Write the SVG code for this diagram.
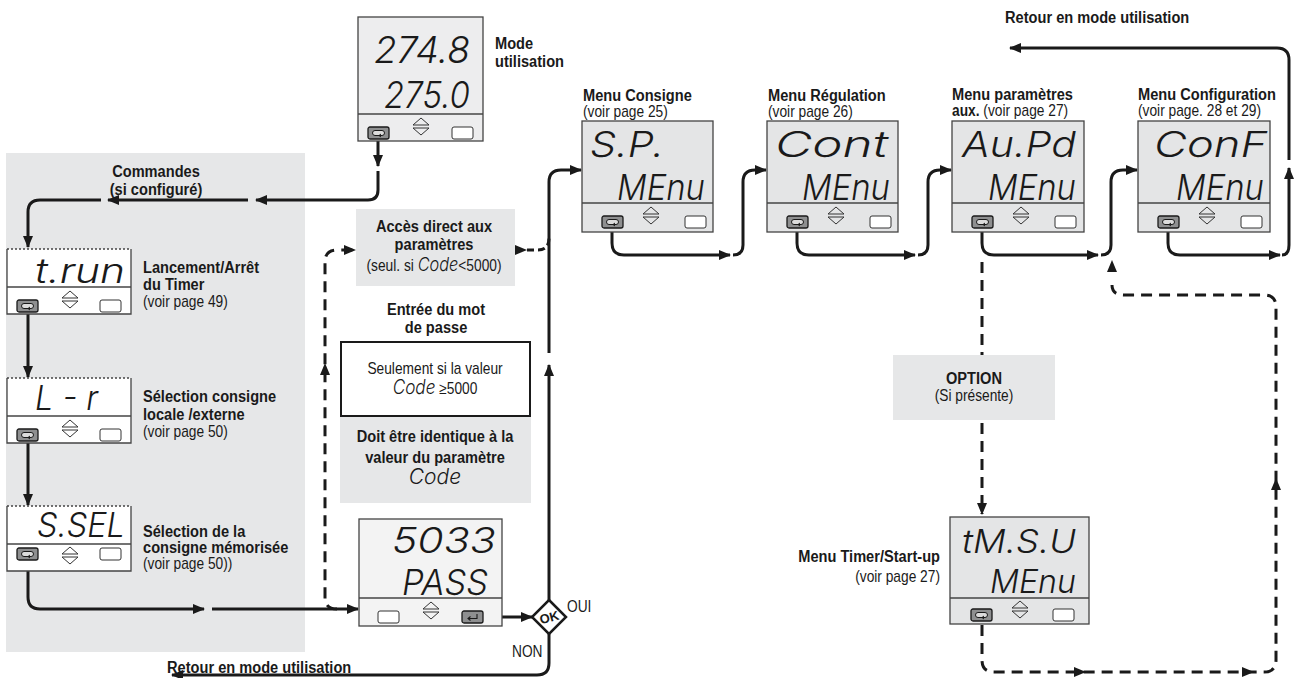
<svg xmlns="http://www.w3.org/2000/svg" width="1295" height="678" viewBox="0 0 1295 678">
<style>
.lb{font-family:"Liberation Sans",Arial,sans-serif;font-weight:bold;font-size:17px;fill:#1a1a1a}
.lr{font-family:"Liberation Sans",Arial,sans-serif;font-weight:normal;font-size:16px;fill:#1a1a1a}
.seg{font-family:Inter,"DejaVu Sans",sans-serif;font-weight:300;font-style:oblique;fill:#1a1a1a}
.panel{fill:#e6e7e8}
.disp{stroke:#444;stroke-width:1.3}
.div{stroke:#444;stroke-width:1.3}
.c{fill:none;stroke:#1a1a1a;stroke-width:3;stroke-linejoin:round}
.d{fill:none;stroke:#1a1a1a;stroke-width:3;stroke-dasharray:11 7}
.tri{fill:#1a1a1a}
</style>
<defs>
<marker id="ah" markerWidth="13" markerHeight="10" refX="11" refY="5" orient="auto" markerUnits="userSpaceOnUse"><path d="M0 0 L12 5 L0 10 z" fill="#1a1a1a"/></marker>
<g id="bLoop"><rect x="0" y="0" width="21" height="12" rx="2" fill="#8e8f90" stroke="#1a1a1a" stroke-width="1.3"/><path d="M7 3.5 H14 A2.5 2.5 0 0 1 14 8.5 H7 A2.5 2.5 0 0 1 7 3.5 Z" fill="#dcdcdc" stroke="#1a1a1a" stroke-width="1"/><path d="M13 7 L11 8.5 L13 10" fill="none" stroke="#1a1a1a" stroke-width="1"/></g>
<g id="bBlank"><rect x="0" y="0" width="21" height="12" rx="2" fill="#fff" stroke="#333" stroke-width="1"/></g>
<g id="bArr"><path d="M-8 8 L0 1 L8 8 Z M-8 11 L0 18 L8 11 Z" fill="none" stroke="#333" stroke-width="1"/></g>
<g id="bEnter"><rect x="0" y="0" width="21" height="12" rx="2" fill="#8e8f90" stroke="#1a1a1a" stroke-width="1.3"/><path d="M15 3 V7.5 H6 M8.5 5.5 L6 7.5 L8.5 9.5" fill="none" stroke="#1a1a1a" stroke-width="1.1"/></g>
<path id="triR" d="M-12 -5 L0 0 L-12 5 Z"/>
</defs>

<!-- background panels -->
<rect class="panel" x="6" y="153" width="299" height="499"/>
<rect class="panel" x="356" y="209" width="159" height="77"/>
<rect class="panel" x="340" y="416" width="191" height="87"/>
<rect class="panel" x="893" y="355" width="162" height="65"/>

<!-- connectors -->
<g id="connectors">
<path class="c" d="M378 139 V166" marker-end="url(#ah)"/>
<path class="c" d="M378 171 V190 Q378 200 368 200 H256" marker-end="url(#ah)"/>
<path class="c" d="M248 200 H108" marker-end="url(#ah)"/>
<path class="c" d="M101 200 H40 Q28 200 28 212 V247" marker-end="url(#ah)"/>
<path class="c" d="M28 313 V377" marker-end="url(#ah)"/>
<path class="c" d="M28 441 V505" marker-end="url(#ah)"/>
<path class="c" d="M28 561 V597 Q28 609 40 609 H204" marker-end="url(#ah)"/>
<path class="c" d="M212 609 H358" marker-end="url(#ah)"/>
<path class="d" d="M337 609 Q325 609 325 597 V262 Q325 250 337 250 H355" marker-end="url(#ah)"/>
<use href="#triR" class="tri" transform="translate(325 363) rotate(-90)"/>
<polygon class="tri" points="515,245 527,250 515,255"/>
<path class="d" style="stroke-dasharray:7 4" d="M527 250 H538 Q549 250 549 238"/>
<path class="c" d="M549 601 V365" marker-end="url(#ah)"/>
<path class="c" d="M549 353 V182 Q549 170 561 170 H581" marker-end="url(#ah)"/>
<path class="c" d="M484 617 H532" marker-end="url(#ah)"/>
<path class="c" d="M549 634 V663 Q549 675 537 675 H172" marker-end="url(#ah)"/>
<path class="c" d="M612 228 V243 Q612 255 624 255 H730" marker-end="url(#ah)"/>
<path class="c" d="M733 255 Q743 255 743 245 V182 Q743 170 755 170 H766" marker-end="url(#ah)"/>
<path class="c" d="M797 228 V243 Q797 255 809 255 H915" marker-end="url(#ah)"/>
<path class="c" d="M918 255 Q928 255 928 245 V182 Q928 170 940 170 H951" marker-end="url(#ah)"/>
<path class="c" d="M982 228 V243 Q982 255 994 255 H1098" marker-end="url(#ah)"/>
<path class="c" d="M1101 255 Q1111 255 1111 245 V182 Q1111 170 1123 170 H1137" marker-end="url(#ah)"/>
<path class="c" d="M1168 228 V243 Q1168 255 1180 255 H1280" marker-end="url(#ah)"/>
<path class="c" d="M1282 255 Q1289 255 1289 245 V168" marker-end="url(#ah)"/>
<path class="c" d="M1289 160 V60 Q1289 48 1277 48 H1010" marker-end="url(#ah)"/>
<path class="d" d="M982 262 V355"/>
<path class="d" d="M982 423 V514" marker-end="url(#ah)"/>
<path class="d" d="M982 625 V660 Q982 672 994 672 H1264 Q1276 672 1276 660 V307 Q1276 295 1264 295 H1124 Q1112 295 1112 285"/>
<use href="#triR" class="tri" transform="translate(1086 672)"/>
<use href="#triR" class="tri" transform="translate(1254 672)"/>
<use href="#triR" class="tri" transform="translate(1276 478) rotate(-90)"/>
<use href="#triR" class="tri" transform="translate(1112 260) rotate(-90)"/>
<polygon points="549,600 566,617 549,634 532,617" fill="#fff" stroke="#1a1a1a" stroke-width="2.5"/>
</g>

<!-- Mode utilisation -->
<g id="mode">
<rect class="disp" x="358" y="17" width="125" height="124" fill="#ededee"/>
<line class="div" x1="358" y1="114" x2="483" y2="114"/>
<use href="#bLoop" x="368" y="127"/>
<use href="#bArr" x="421" y="117"/>
<use href="#bBlank" x="452" y="127"/>
<text class="seg" x="374" y="63" font-size="37" textLength="96" lengthAdjust="spacingAndGlyphs">274.8</text>
<text class="seg" x="384" y="108" font-size="37" textLength="86" lengthAdjust="spacingAndGlyphs">275.0</text>
<text class="lb" transform="translate(495 49) scale(0.86 1)">Mode</text>
<text class="lb" transform="translate(495 67) scale(0.86 1)">utilisation</text>
</g>

<g id="commandes">
<text class="lb" text-anchor="middle" transform="translate(156 177) scale(0.86 1)">Commandes</text>
<text class="lb" text-anchor="middle" transform="translate(156 195) scale(0.86 1)">(si configuré)</text>
</g>

<!-- t.run -->
<g id="trun">
<rect x="7" y="249" width="124" height="65" fill="#fff"/>
<path d="M7 249 V314 H131 V249" fill="none" stroke="#444" stroke-width="1.3"/>
<line x1="7" y1="249" x2="131" y2="249" stroke="#444" stroke-width="1.3" stroke-dasharray="2 2"/>
<line class="div" x1="7" y1="287" x2="131" y2="287"/>
<use href="#bLoop" x="17" y="300"/>
<use href="#bArr" x="70" y="290"/>
<use href="#bBlank" x="100" y="300"/>
<text class="seg" x="35" y="283" font-size="34" textLength="90" lengthAdjust="spacingAndGlyphs">t.run</text>
<text class="lb" transform="translate(143 273) scale(0.86 1)">Lancement/Arrêt</text>
<text class="lb" transform="translate(143 290) scale(0.86 1)">du Timer</text>
<text class="lr" transform="translate(143 307) scale(0.86 1)">(voir page 49)</text>
</g>

<!-- L-r -->
<g id="lr">
<rect x="7" y="378" width="124" height="65" fill="#fff"/>
<path d="M7 378 V443 H131 V378" fill="none" stroke="#444" stroke-width="1.3"/>
<line x1="7" y1="378" x2="131" y2="378" stroke="#444" stroke-width="1.3" stroke-dasharray="2 2"/>
<line class="div" x1="7" y1="416" x2="131" y2="416"/>
<use href="#bLoop" x="17" y="429"/>
<use href="#bArr" x="70" y="419"/>
<use href="#bBlank" x="100" y="429"/>
<text class="seg" x="35" y="410" font-size="34" textLength="63" lengthAdjust="spacingAndGlyphs">L - r</text>
<text class="lb" transform="translate(143 402) scale(0.86 1)">Sélection consigne</text>
<text class="lb" transform="translate(143 420) scale(0.86 1)">locale /externe</text>
<text class="lr" transform="translate(143 437) scale(0.86 1)">(voir page 50)</text>
</g>

<!-- S.SEL -->
<g id="ssel">
<rect x="7" y="506" width="124" height="65" fill="#fff"/>
<path d="M7 506 V571 H131 V506" fill="none" stroke="#444" stroke-width="1.3"/>
<line x1="7" y1="506" x2="131" y2="506" stroke="#444" stroke-width="1.3" stroke-dasharray="2 2"/>
<line class="div" x1="7" y1="544" x2="131" y2="544"/>
<use href="#bLoop" x="17" y="548"/>
<use href="#bArr" x="70" y="546"/>
<use href="#bBlank" x="100" y="548"/>
<text class="seg" x="37" y="537" font-size="34" textLength="88" lengthAdjust="spacingAndGlyphs">S.SEL</text>
<text class="lb" transform="translate(143 537) scale(0.86 1)">Sélection de la</text>
<text class="lb" transform="translate(143 553) scale(0.86 1)">consigne mémorisée</text>
<text class="lr" transform="translate(143 569) scale(0.86 1)">(voir page 50))</text>
</g>

<text class="lb" transform="translate(167 673) scale(0.86 1)">Retour en mode utilisation</text>

<!-- Accès direct -->
<g id="acces">
<text class="lb" text-anchor="middle" transform="translate(434 232) scale(0.86 1)">Accès direct aux</text>
<text class="lb" text-anchor="middle" transform="translate(434 250) scale(0.86 1)">paramètres</text>
<text class="lr" text-anchor="middle" transform="translate(434 271) scale(0.86 1)">(seul. si <tspan class="seg" font-size="19">Code</tspan>&lt;5000)</text>
</g>

<g id="motdepasse">
<text class="lb" text-anchor="middle" transform="translate(436 315) scale(0.86 1)">Entrée du mot</text>
<text class="lb" text-anchor="middle" transform="translate(436 333) scale(0.86 1)">de passe</text>
<rect x="341" y="342" width="189" height="74" fill="#fff" stroke="#1a1a1a" stroke-width="2"/>
<text class="lr" text-anchor="middle" transform="translate(435 374) scale(0.86 1)">Seulement si la valeur</text>
<text class="lr" text-anchor="middle" transform="translate(435 394) scale(0.86 1)"><tspan class="seg" font-size="20">Code</tspan>  ≥5000</text>
</g>

<g id="identique">
<text class="lb" text-anchor="middle" transform="translate(435 442) scale(0.86 1)">Doit être identique à la</text>
<text class="lb" text-anchor="middle" transform="translate(435 463) scale(0.86 1)">valeur du paramètre</text>
<text class="seg" x="435" y="484" font-size="21" text-anchor="middle">Code</text>
</g>

<!-- PASS -->
<g id="pass">
<rect class="disp" x="359" y="519" width="143" height="107" fill="#f3f3f3"/>
<line class="div" x1="359" y1="598" x2="502" y2="598"/>
<use href="#bBlank" x="378" y="611"/>
<use href="#bArr" x="431" y="601"/>
<use href="#bEnter" x="462" y="611"/>
<text class="seg" x="392" y="553" font-size="35" textLength="104" lengthAdjust="spacingAndGlyphs">5033</text>
<text class="seg" x="402" y="595" font-size="35" textLength="86" lengthAdjust="spacingAndGlyphs">PASS</text>
</g>

<g id="ok">
<text x="549" y="622" font-family="Liberation Sans, Arial, sans-serif" font-weight="bold" font-size="13" text-anchor="middle" fill="#1a1a1a" transform="rotate(-15 549 617)">OK</text>
<text class="lr" transform="translate(567 612) scale(0.86 1)">OUI</text>
<text class="lr" transform="translate(512 657) scale(0.86 1)">NON</text>
</g>

<!-- Menu Consigne -->
<g id="sp">
<text class="lb" transform="translate(583 101) scale(0.86 1)">Menu Consigne</text>
<text class="lr" transform="translate(583 117) scale(0.86 1)">(voir page 25)</text>
<rect class="disp" x="582" y="121" width="131" height="111" fill="#e4e5e6"/>
<line class="div" x1="582" y1="203" x2="713" y2="203"/>
<use href="#bLoop" x="602" y="216"/>
<use href="#bArr" x="651" y="206"/>
<use href="#bBlank" x="685" y="216"/>
<text class="seg" x="590" y="157" font-size="36" textLength="74" lengthAdjust="spacingAndGlyphs">S.P.</text>
<text class="seg" x="617" y="200" font-size="36" textLength="88" lengthAdjust="spacingAndGlyphs">MEnu</text>
</g>

<g id="cont">
<text class="lb" transform="translate(768 101) scale(0.86 1)">Menu Régulation</text>
<text class="lr" transform="translate(768 117) scale(0.86 1)">(voir page 26)</text>
<rect class="disp" x="767" y="121" width="131" height="111" fill="#e4e5e6"/>
<line class="div" x1="767" y1="203" x2="898" y2="203"/>
<use href="#bLoop" x="787" y="216"/>
<use href="#bArr" x="836" y="206"/>
<use href="#bBlank" x="870" y="216"/>
<text class="seg" x="775" y="157" font-size="36" textLength="113" lengthAdjust="spacingAndGlyphs">Cont</text>
<text class="seg" x="802" y="200" font-size="36" textLength="88" lengthAdjust="spacingAndGlyphs">MEnu</text>
</g>

<g id="aupd">
<text class="lb" transform="translate(952 100) scale(0.86 1)">Menu paramètres</text>
<text class="lr" transform="translate(952 116) scale(0.86 1)"><tspan font-weight="bold">aux.</tspan> (voir page 27)</text>
<rect class="disp" x="952" y="121" width="132" height="111" fill="#e4e5e6"/>
<line class="div" x1="952" y1="203" x2="1084" y2="203"/>
<use href="#bLoop" x="972" y="216"/>
<use href="#bArr" x="1021" y="206"/>
<use href="#bBlank" x="1055" y="216"/>
<text class="seg" x="962" y="157" font-size="36" textLength="114" lengthAdjust="spacingAndGlyphs">Au.Pd</text>
<text class="seg" x="988" y="200" font-size="36" textLength="88" lengthAdjust="spacingAndGlyphs">MEnu</text>
</g>

<g id="conf">
<text class="lb" transform="translate(1138 100) scale(0.86 1)">Menu Configuration</text>
<text class="lr" transform="translate(1138 116) scale(0.86 1)">(voir page. 28 et 29)</text>
<rect class="disp" x="1138" y="121" width="132" height="111" fill="#e4e5e6"/>
<line class="div" x1="1138" y1="203" x2="1270" y2="203"/>
<use href="#bLoop" x="1158" y="216"/>
<use href="#bArr" x="1207" y="206"/>
<use href="#bBlank" x="1241" y="216"/>
<text class="seg" x="1154" y="157" font-size="36" textLength="113" lengthAdjust="spacingAndGlyphs">ConF</text>
<text class="seg" x="1176" y="200" font-size="36" textLength="88" lengthAdjust="spacingAndGlyphs">MEnu</text>
</g>

<text class="lb" transform="translate(1005 23) scale(0.86 1)">Retour en mode utilisation</text>

<g id="option">
<text class="lb" text-anchor="middle" transform="translate(974 384) scale(0.86 1)">OPTION</text>
<text class="lr" text-anchor="middle" transform="translate(974 401) scale(0.86 1)">(Si présente)</text>
</g>

<g id="tmsu">
<rect class="disp" x="950" y="517" width="139" height="107" fill="#e4e5e6"/>
<line class="div" x1="950" y1="598" x2="1089" y2="598"/>
<use href="#bLoop" x="971" y="609"/>
<use href="#bArr" x="1020" y="600"/>
<use href="#bBlank" x="1053" y="609"/>
<text class="seg" x="962" y="553" font-size="33" textLength="114" lengthAdjust="spacingAndGlyphs">tM.S.U</text>
<text class="seg" x="990" y="593" font-size="33" textLength="86" lengthAdjust="spacingAndGlyphs">MEnu</text>
<text class="lb" text-anchor="end" transform="translate(940 562) scale(0.86 1)">Menu Timer/Start-up</text>
<text class="lr" text-anchor="end" transform="translate(940 582) scale(0.86 1)">(voir page 27)</text>
</g>
</svg>
